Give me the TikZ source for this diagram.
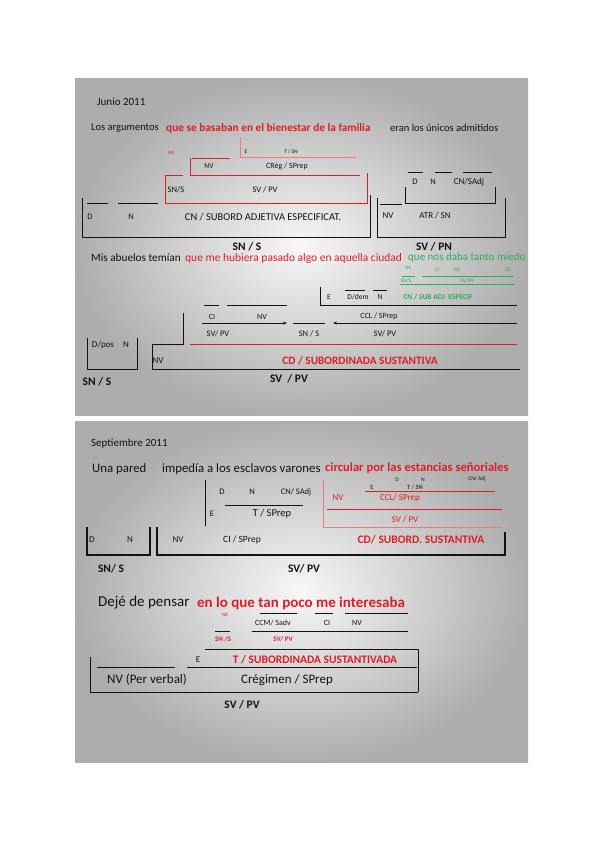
\documentclass[tikz,border=0pt]{standalone}
\usepackage{fontspec}
\setmainfont{Carlito}
\usepackage{tikz}
\usetikzlibrary{arrows.meta,positioning}
\definecolor{ink}{RGB}{18,18,18}
\definecolor{synred}{RGB}{222,30,38}
\definecolor{synpink}{RGB}{240,120,120}
\definecolor{syngreen}{RGB}{48,172,90}
\newcommand{\fs}[1]{\fontsize{#1}{#1}\selectfont}
\tikzset{
  slide/.style={inner color=gray!6,outer color=gray!64},
  sent/.style={font=\fs{10.5},text=ink,inner sep=0pt,anchor=west},
  lbl/.style={font=\fs{8.5},text=ink,inner sep=0pt},
  smlbl/.style={font=\fs{7.5},text=ink,inner sep=0pt},
  tinylbl/.style={font=\fs{5.5},text=ink,inner sep=0pt},
  func/.style={font=\fs{11.5}\bfseries,text=ink,inner sep=0pt},
  bar/.style={draw=ink,line width=0.9pt},
  redbar/.style={draw=synred,line width=0.9pt},
  greenbar/.style={draw=syngreen,line width=0.7pt},
}

\begin{document}
\begin{tikzpicture}[x=1pt,y=-1pt]
  \useasboundingbox (0,0) rectangle (600,848);
  \fill[white] (0,0) rectangle (600,848);
  \shade[slide] (75,79) rectangle (528,415);
  \shade[slide] (75,421) rectangle (528,762);

  % ---- Junio 2011
  \node[sent,font=\fs{11}] (fecha1) at (97,102) {Junio 2011};
  \node[sent] (s1a) at (91,128) {Los argumentos};
  \node[sent,text=synred,font=\fs{11.3}\bfseries] (s1b) at (166,128)
    {que se basaban en el bienestar de la familia};
  \node[sent] (s1c) at (390,128) {eran los únicos admitidos};

  % subordinada adjetiva (rojo)
  \node[tinylbl,font=\fs{5},text=synred] (nx1) at (171,153) {NX};
  \draw[draw=synpink,line width=0.8pt] (240,137) -- (240,157) -- (356,157);
  \node[tinylbl] (e1) at (246,152) {E};
  \node[tinylbl] (t1) at (291,152) {T / SN};
  \draw[redbar] (192,158) -- (230,158);
  \draw[redbar] (190,158) -- (190,175) -- (360,175);
  \draw[redbar] (183,175) -- (165,175) -- (165,203) -- (367,203) -- (367,173);
  \node[smlbl] (nv1) at (209,166) {NV};
  \node[lbl,font=\fs{8}] (creg1) at (287,166) {CRég / SPrep};
  \node[lbl] (sns1) at (176,190) {SN/S};
  \node[lbl] (svpv1) at (265,190) {SV / PV};

  % sujeto
  \draw[bar] (87,203) -- (108,203);
  \draw[bar] (118,203) -- (158,203);
  \draw[bar] (82,198) -- (82,237) -- (370,237) -- (370,195);
  \node[lbl] (d1) at (90,217) {D};
  \node[lbl] (n1) at (131,217) {N};
  \node[lbl,font=\fs{10.5}] (cn1) at (263,217) {CN / SUBORD ADJETIVA ESPECIFICAT.};
  \node[func] (suj1) at (247,247) {SN / S};

  % predicado nominal
  \draw[bar] (408,172) -- (423,172);
  \draw[bar] (435,172) -- (452,172);
  \draw[bar] (463,172) -- (492,172);
  \node[lbl] (d2) at (415,182) {D};
  \node[lbl] (n2) at (433,182) {N};
  \node[lbl,font=\fs{9}] (cn2) at (469,182) {CN/SAdj};
  \draw[bar] (405,187) -- (405,203) -- (495,203) -- (495,187);
  \draw[bar] (380,204) -- (402,204);
  \draw[bar] (377,198) -- (377,237) -- (505,237) -- (505,198);
  \node[lbl,font=\fs{9}] (nv2) at (388,216) {NV};
  \node[lbl,font=\fs{9}] (atr2) at (435,216) {ATR / SN};
  \node[func] (pn2) at (434,247) {SV / PN};

  % ---- segunda oración
  \node[sent,font=\fs{11.25}] (s2a) at (91,258) {Mis abuelos temían};
  \node[sent,text=synred,font=\fs{11.5}] (s2b) at (185,258) {que me hubiera pasado algo en aquella ciudad};
  \node[sent,text=syngreen,font=\fs{11}] (s2c) at (408,258) {que nos daba tanto miedo};

  % adjetiva (verde)
  \node[tinylbl,font=\fs{5},text=syngreen] (nx2) at (408,268) {NX};
  \node[tinylbl,text=syngreen] (ci2) at (437,270) {CI};
  \node[tinylbl,text=syngreen] (nv3) at (457,270) {NV};
  \node[tinylbl,text=syngreen] (cs2) at (508,270) {CS};
  \draw[greenbar] (402,276) -- (415,276);
  \draw[greenbar] (422,276) -- (513,276);
  \node[tinylbl,text=syngreen] (sns2) at (406,280.5) {SN/S};
  \node[tinylbl,text=syngreen] (svpv2) at (467,280.5) {SV/PV};
  \draw[greenbar] (400,284) -- (515,284);
  \node[smlbl,text=syngreen,font=\fs{7.5}\bfseries] (cn3) at (438,297)
    {CN / SUB ADJ\ \ ESPECIF};

  % CCL
  \draw[bar] (320,287) -- (320,305) -- (517,305);
  \draw[bar] (345,290) -- (365,290);
  \draw[bar] (373,290) -- (387,290);
  \node[smlbl] (e2) at (329,297) {E};
  \node[smlbl] (ddem) at (358,297) {D/dem};
  \node[smlbl] (n3) at (380,297) {N};
  \node[lbl,font=\fs{8}] (ccl2) at (379,316.5) {CCL / SPrep};
  \node[lbl] (svpv4) at (385,334) {SV/ PV};
  \coordinate (cclR) at (517,323);
  \coordinate (cclL) at (333,323);
  \draw[draw=ink,line width=0.8pt,-{Stealth[length=4pt,width=3pt]}] (cclR) -- (cclL);

  % sujeto de la subordinada
  \draw[bar] (293,323) -- (325,323);
  \node[lbl] (sns3) at (309,334) {SN / S};

  % CI + NV
  \draw[bar] (204,305) -- (219,305);
  \draw[bar] (227,305) -- (287,305);
  \node[lbl,font=\fs{8}] (ci3) at (212,316.5) {CI};
  \node[lbl,font=\fs{8}] (nv4) at (262,316.5) {NV};
  \node[lbl] (svpv3) at (218,334) {SV/ PV};
  \coordinate (ciL) at (202,323);
  \coordinate (ciR) at (287,323);
  \draw[draw=ink,line width=0.8pt,-{Stealth[length=4pt,width=3pt]}] (ciL) -- (ciR);

  % CD
  \draw[bar] (183,313) -- (183,344) -- (152,344) -- (152,369) -- (520,369);
  \draw[redbar] (190,344) -- (517,344);
  \node[lbl,font=\fs{9}] (nv5) at (158,361) {NV};
  \node[func,font=\fs{11.3}\bfseries,text=synred] (cd1) at (360,361) {CD / SUBORDINADA SUSTANTIVA};
  \draw[bar] (87,338) -- (87,369) -- (137,369) -- (137,338);
  \node[lbl,font=\fs{9}] (dpos) at (103,345) {D/pos};
  \node[lbl,font=\fs{9}] (n4) at (126,345) {N};
  \node[func] (suj2) at (97,382) {SN / S};
  \node[func] (pred2) at (289,379) {SV\ \ / PV};

  % ---- Septiembre 2011
  \node[sent,font=\fs{11}] (fecha2) at (91,444) {Septiembre 2011};
  \node[sent,font=\fs{12.8}] (s3a) at (92,469) {Una pared};
  \node[sent,font=\fs{12.8}] (s3b) at (162,469) {impedía a los esclavos varones};
  \node[sent,text=synred,font=\fs{12.6}\bfseries] (s3c) at (325,468)
    {circular por las estancias señoriales};

  % CD (rojo)
  \node[tinylbl,font=\fs{5.5}] (d5) at (397,479.5) {D};
  \node[tinylbl,font=\fs{5.5}] (n5) at (423,479.5) {N};
  \node[tinylbl,font=\fs{5.5}] (cn5) at (477,479.5) {CN/ Adj};
  \node[tinylbl,font=\fs{6.5}] (e5) at (372,487.5) {E};
  \node[tinylbl,font=\fs{6.5}] (t5) at (415,487.5) {T / SN};
  \draw[redbar,line width=0.7pt] (365,491.5) -- (495,491.5);
  \node[lbl,font=\fs{9},text=synred] (nv6) at (338,498) {NV};
  \node[lbl,font=\fs{9},text=synred] (ccl6) at (400,498) {CCL/ SPrep};
  \draw[redbar] (327,509) -- (502,509);
  \draw[draw=synpink,line width=0.6pt] (323,480) -- (323,527) -- (502,527);
  \node[lbl,font=\fs{9},text=synred] (svpv6) at (405,520) {SV / PV};

  % CI / SPrep
  \draw[bar] (205,480) -- (205,526);
  \node[lbl] (d6) at (222,492) {D};
  \node[lbl] (n6) at (252,492) {N};
  \node[lbl] (cn6) at (296,492) {CN/ SAdj};
  \draw[bar] (225,505) -- (303,505);
  \node[lbl] (e6) at (212,514) {E};
  \node[lbl,font=\fs{10.5}] (t6) at (272,514) {T / SPrep};

  \draw[draw=ink,line width=1.3pt] (87,527) -- (87,555) -- (150,555) -- (150,527);
  \draw[draw=ink,line width=1.3pt] (157,527) -- (157,555) -- (505,555) -- (505,532);
  \node[lbl,font=\fs{9}] (d7) at (92,540) {D};
  \node[lbl,font=\fs{9}] (n7) at (130,540) {N};
  \node[lbl,font=\fs{9}] (nv7) at (178,540) {NV};
  \node[lbl,font=\fs{9.5}] (ci7) at (242,540) {CI / SPrep};
  \node[func,text=synred] (cd7) at (421,540) {CD/ SUBORD. SUSTANTIVA};
  \node[func] (suj3) at (111,569) {SN/ S};
  \node[func] (pred3) at (304,569) {SV/ PV};

  % ---- tercera oración
  \node[sent,font=\fs{15}] (s4a) at (98,603) {Dejé de pensar};
  \node[sent,text=synred,font=\fs{15}\bfseries] (s4b) at (197,603)
    {en lo que tan poco me interesaba};

  \draw[bar] (260,613) -- (297,613);
  \draw[bar] (315,613) -- (333,613);
  \draw[bar] (345,613) -- (408,613);
  \node[tinylbl,font=\fs{5},text=synred] (nx4) at (225,615) {NX};
  \node[lbl,font=\fs{8}] (ccm) at (273,623) {CCM/ Sadv};
  \node[lbl,font=\fs{8}] (ci8) at (327,623) {CI};
  \node[lbl,font=\fs{8}] (nv8) at (357,623) {NV};
  \draw[bar] (215,631) -- (230,631);
  \draw[bar] (252,631) -- (408,631);
  \node[lbl,text=synred,font=\fs{7}\bfseries] (sns8) at (223,639) {SN /S};
  \node[lbl,text=synred,font=\fs{7}\bfseries] (svpv8) at (283,639) {SV/ PV};
  \draw[bar] (205,649) -- (418,649) -- (418,692);
  \node[lbl,font=\fs{9}] (e8) at (198,660) {E};
  \node[func,text=synred] (t8) at (315,660) {T / SUBORDINADA SUSTANTIVADA};
  \draw[bar] (97,667) -- (175,667);
  \draw[bar] (187,667) -- (417,667);
  \draw[bar] (90,657) -- (90,692) -- (418,692);
  \node[lbl,font=\fs{13}] (nv9) at (147,680) {NV (Per verbal)};
  \node[lbl,font=\fs{13}] (creg9) at (287,680) {Crégimen / SPrep};
  \node[func] (pred4) at (242,705) {SV / PV};
\end{tikzpicture}
\end{document}
